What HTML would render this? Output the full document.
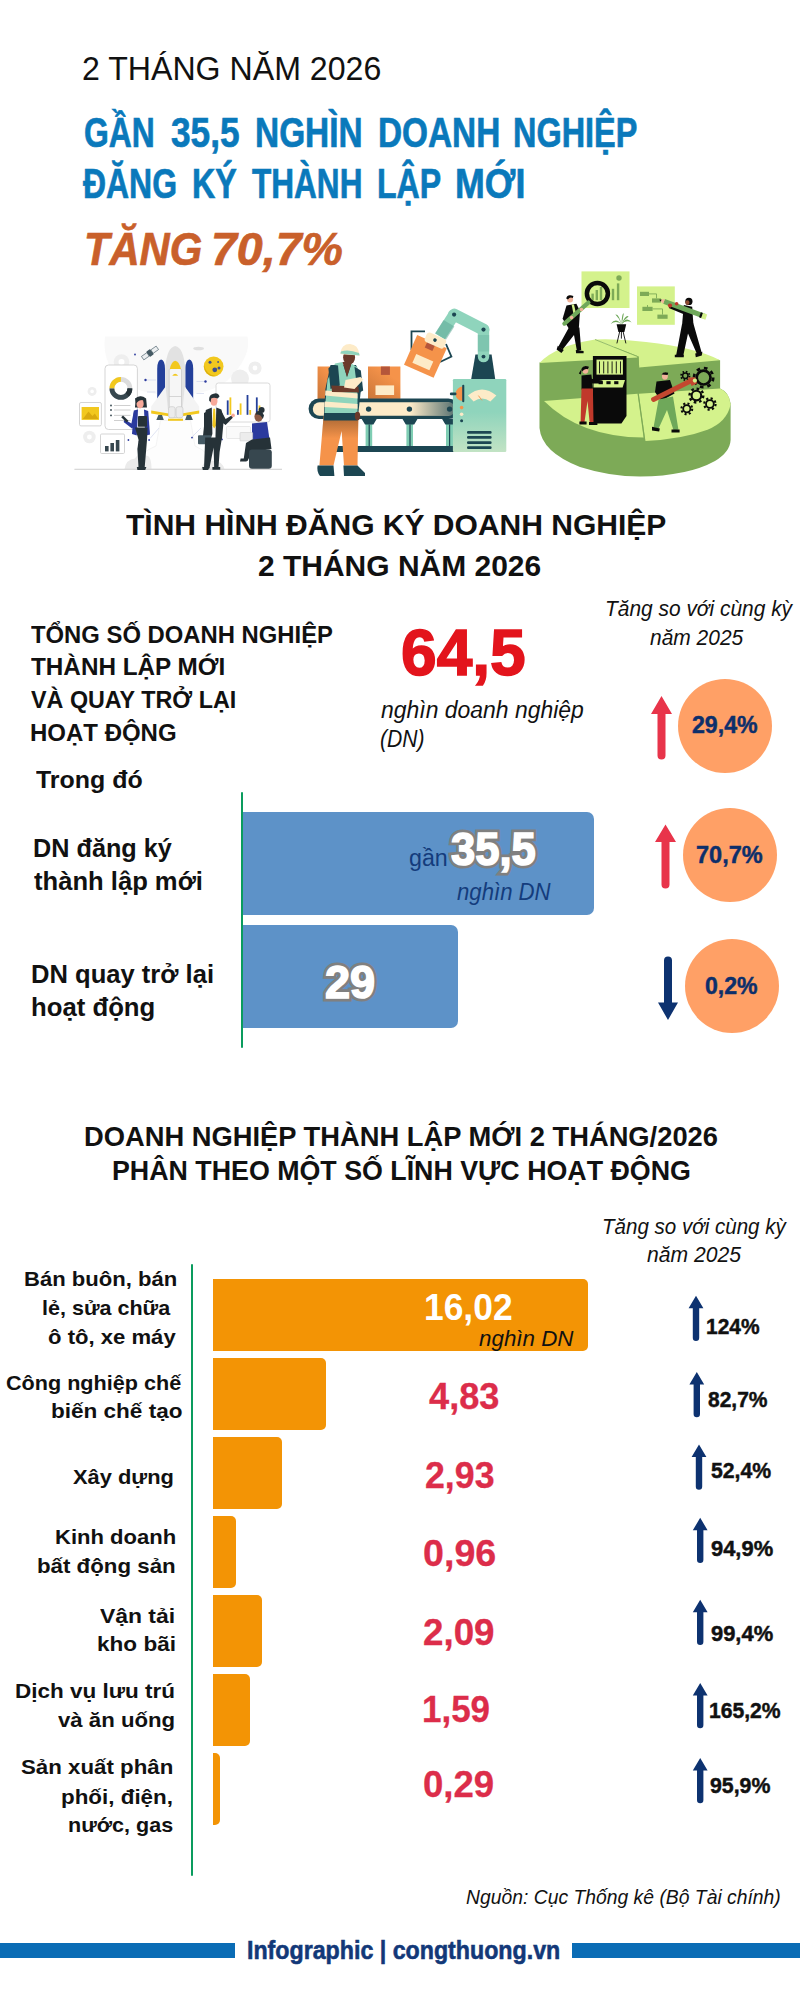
<!DOCTYPE html>
<html lang="vi"><head><meta charset="utf-8"><title>Infographic</title>
<style>
html,body{margin:0;padding:0;background:#fff;}
body{font-family:"Liberation Sans",sans-serif;}
#page{position:relative;width:800px;height:2000px;overflow:hidden;background:#fff;}
.t{position:absolute;white-space:nowrap;transform-origin:0 0;display:block;}
.bl{display:inline-block;width:0;height:0;vertical-align:baseline;}
.r{position:absolute;}
svg{position:absolute;left:0;top:0;overflow:visible;}

</style></head>
<body>
<div id="page">
<!-- section 2 bars -->
<div class="r" style="left:240.6px;top:792.3px;width:2.2px;height:255.5px;background:#0a9c5e;border-radius:1px"></div>
<div class="r" style="left:243px;top:812px;width:351px;height:103px;background:#5d92c8;border-radius:0 7px 7px 0"></div>
<div class="r" style="left:243px;top:925px;width:215px;height:103px;background:#5d92c8;border-radius:0 7px 7px 0"></div>
<!-- circles -->
<div class="r" style="left:678px;top:678.5px;width:94px;height:94px;border-radius:50%;background:#ffa066"></div>
<div class="r" style="left:682.5px;top:808px;width:94px;height:94px;border-radius:50%;background:#ffa066"></div>
<div class="r" style="left:684.5px;top:939px;width:94px;height:94px;border-radius:50%;background:#ffa066"></div>
<!-- section 3 bars -->
<div class="r" style="left:190.9px;top:1264px;width:2.1px;height:612px;background:#0a9c5e;border-radius:1px"></div>
<div class="r" style="left:213px;top:1279px;width:375px;height:72px;background:#f39405;border-radius:0 5px 5px 0"></div>
<div class="r" style="left:213px;top:1358px;width:113px;height:72px;background:#f39405;border-radius:0 5px 5px 0"></div>
<div class="r" style="left:213px;top:1437px;width:69px;height:72px;background:#f39405;border-radius:0 5px 5px 0"></div>
<div class="r" style="left:213px;top:1516px;width:23px;height:72px;background:#f39405;border-radius:0 5px 5px 0"></div>
<div class="r" style="left:213px;top:1595px;width:49px;height:72px;background:#f39405;border-radius:0 5px 5px 0"></div>
<div class="r" style="left:213px;top:1674px;width:37px;height:72px;background:#f39405;border-radius:0 5px 5px 0"></div>
<div class="r" style="left:213px;top:1753px;width:7px;height:72px;background:#f39405;border-radius:0 5px 5px 0"></div>
<!-- footer bars -->
<div class="r" style="left:0;top:1943px;width:235px;height:15px;background:#0a6cb5"></div>
<div class="r" style="left:572px;top:1943px;width:228px;height:15px;background:#0a6cb5"></div>
<!-- illustrations -->
<svg width="800" height="2000" viewBox="0 0 800 2000">
<!-- illustration 1: rocket & business people. coords in 3.333x zoom space of region (60,320) -->
<g transform="translate(60,320) scale(0.3)">
<!-- soft background blob -->
<path d="M150 55 L625 55 Q640 120 560 200 Q500 250 385 250 Q250 250 190 190 Q140 130 150 55 Z" fill="#f9f9f9"/>
<!-- gears light -->
<g fill="#eeeeee">
<circle cx="205" cy="140" r="26"/><circle cx="650" cy="160" r="22"/><circle cx="600" cy="195" r="30"/>
<circle cx="107" cy="238" r="15"/><circle cx="98" cy="390" r="21"/>
</g>
<g fill="#fff"><circle cx="205" cy="140" r="10"/><circle cx="650" cy="160" r="8"/><circle cx="107" cy="238" r="6"/><circle cx="98" cy="390" r="8"/></g>
<!-- smoke -->
<path d="M335 335 L435 335 L450 420 Q500 440 520 497 L245 497 Q265 440 320 420 Z" fill="#fdfdfd" stroke="#ececec" stroke-width="2"/>
<path d="M215 497 Q220 465 250 462 Q262 440 285 452 Q305 450 305 497 Z" fill="#ebebeb"/>
<path d="M470 497 Q480 462 510 470 Q540 468 548 497 Z" fill="#ebebeb"/>
<!-- phone -->
<rect x="150" y="150" width="108" height="215" rx="12" fill="#fff" stroke="#d0d0d0" stroke-width="3"/>
<circle cx="203" cy="228" r="30" fill="none" stroke="#dcdcdc" stroke-width="16"/>
<path d="M173 228 A30 30 0 0 1 203 198" fill="none" stroke="#f2c81e" stroke-width="16"/>
<path d="M173 228 A30 30 0 0 0 233 228" fill="none" stroke="#37474f" stroke-width="16"/>
<path d="M224 249 A30 30 0 0 0 233 228" fill="none" stroke="#263238" stroke-width="16"/>
<g stroke="#c9c9c9" stroke-width="3"><path d="M180 285 H235 M180 300 H235 M180 318 H235 M180 335 H235"/></g>
<g fill="#37474f"><circle cx="170" cy="300" r="3"/><circle cx="170" cy="318" r="3"/><circle cx="170" cy="285" r="3"/></g>
<!-- image card -->
<rect x="65" y="275" width="73" height="78" rx="5" fill="#fff" stroke="#d0d0d0" stroke-width="3"/>
<rect x="72" y="290" width="58" height="43" fill="#f2c81e"/>
<path d="M76 330 L95 305 L108 320 L116 312 L128 330 Z" fill="#d9a90f"/>
<!-- chart card -->
<rect x="135" y="380" width="80" height="65" rx="4" fill="#fff" stroke="#d0d0d0" stroke-width="3"/>
<g fill="#37474f"><rect x="150" y="420" width="12" height="18"/><rect x="168" y="410" width="12" height="28"/><rect x="186" y="400" width="12" height="38"/></g>
<!-- satellite -->
<g transform="rotate(-35 300 110)"><rect x="270" y="103" width="22" height="14" fill="#eceff1" stroke="#455a64" stroke-width="2"/><rect x="308" y="103" width="22" height="14" fill="#eceff1" stroke="#455a64" stroke-width="2"/><rect x="292" y="99" width="16" height="22" rx="3" fill="#455a64"/></g>
<ellipse cx="462" cy="95" rx="18" ry="6" fill="#e0e0e0"/>
<!-- circuit lines -->
<g stroke="#c9d0ea" stroke-width="2" fill="none"><path d="M285 200 H320 M455 205 H485 M290 240 H318 M455 245 H480 M300 395 L330 360 M440 390 L470 360"/></g>
<g fill="#2b3a9e"><circle cx="285" cy="200" r="4"/><circle cx="485" cy="205" r="4"/><circle cx="250" cy="115" r="3"/><circle cx="297" cy="400" r="3"/><circle cx="440" cy="392" r="3"/><circle cx="540" cy="398" r="3"/><circle cx="228" cy="400" r="3"/></g>
<!-- rocket boosters -->
<path d="M324 265 V162 Q325 133 337 132 Q349 133 350 162 V265 Z" fill="#24409a"/>
<path d="M418 265 V162 Q419 133 431 132 Q443 133 444 162 V265 Z" fill="#24409a"/>
<!-- external tank -->
<path d="M351 300 V160 Q356 92 384 87 Q412 92 417 160 V300 Z" fill="#e2e2e2"/>
<!-- wings -->
<path d="M352 222 L304 288 V312 L362 320 Z M416 222 L464 288 V312 L406 320 Z" fill="#f4f4f4"/>
<path d="M304 302 L362 312 V321 L304 312 Z M464 302 L406 312 V321 L464 312 Z" fill="#f2c81e"/>
<!-- orbiter -->
<path d="M364 325 V165 Q384 150 405 165 V325 Z" fill="#f6f6f6" stroke="#c9c9c9" stroke-width="2.5"/>
<path d="M366 163 Q372 138 384 136 Q397 138 403 163 Z" fill="#f2c81e"/>
<path d="M374 186 Q384 172 394 186 Z" fill="#f2c81e"/>
<path d="M364 255 H405" stroke="#c9c9c9" stroke-width="2.5"/>
<rect x="362" y="289" width="22" height="37" rx="7" fill="#ececec" stroke="#c6c6c6" stroke-width="2"/>
<rect x="387" y="289" width="23" height="37" rx="7" fill="#ececec" stroke="#c6c6c6" stroke-width="2"/>
<path d="M321 333 L328 317 H340 L346 333 Z M417 333 L423 317 H436 L443 333 Z" fill="#455a64"/>
<rect x="360" y="329" width="50" height="7" fill="#f2c81e"/>
<!-- moon -->
<circle cx="512" cy="155" r="33" fill="#f2c81e"/>
<g fill="#3f4f8f"><circle cx="500" cy="141" r="5"/><circle cx="516" cy="166" r="8"/><circle cx="530" cy="160" r="5"/><circle cx="527" cy="140" r="3"/></g><path d="M481 150 A33 33 0 0 0 520 187 A40 40 0 0 1 481 150 Z" fill="#d9ae10"/>
<!-- chart board -->
<rect x="520" y="210" width="180" height="130" rx="8" fill="#fff" stroke="#d6d6d6" stroke-width="3"/>
<g fill="#24409a"><rect x="556" y="268" width="6" height="48"/><rect x="590" y="300" width="6" height="16"/><rect x="622" y="250" width="6" height="66"/><rect x="653" y="258" width="6" height="58"/></g>
<g fill="#f2c81e"><rect x="565" y="258" width="6" height="58"/><rect x="599" y="278" width="6" height="38"/><rect x="631" y="300" width="6" height="16"/><rect x="662" y="285" width="6" height="31"/></g>
<rect x="555" y="355" width="80" height="40" rx="3" fill="#fafafa" stroke="#dcdcdc" stroke-width="2"/>
<!-- ground -->
<rect x="48" y="496" width="692" height="3" fill="#c9c9c9"/>
<!-- woman left -->
<g>
<path d="M252 262 Q268 246 287 262 L290 292 L250 292 Z" fill="#263238"/>
<ellipse cx="267" cy="279" rx="12" ry="16" fill="#f7a99a"/>
<path d="M250 262 Q262 252 280 258 L284 268 Q266 262 254 278 Z" fill="#263238"/>
<path d="M258 298 L280 298 L282 360 L256 360 Z" fill="#fafafa"/>
<path d="M246 302 L260 298 L256 385 L240 380 Z" fill="#2b3a9e"/>
<path d="M280 298 L294 303 L300 382 L284 386 Z" fill="#2b3a9e"/>
<path d="M246 305 L238 345 L216 332 L212 340 L240 362 L252 350 Z" fill="#2b3a9e"/>
<path d="M210 318 L228 336 L222 342 L204 324 Z" fill="#263238"/>
<rect x="260" y="320" width="30" height="36" rx="3" fill="#263238"/>
<path d="M250 358 L292 358 L290 400 L282 495 L272 497 L268 440 L262 400 Z" fill="#263238"/>
<path d="M262 400 L280 460 L276 497 L262 497 L258 430 Z" fill="#263238"/>
<path d="M256 490 H288 L284 500 H258 Z" fill="#263238"/>
</g>
<!-- man -->
<g>
<ellipse cx="513" cy="270" rx="12" ry="16" fill="#f7a99a"/>
<path d="M497 268 Q496 248 512 246 Q526 240 532 254 L526 262 Q512 256 504 262 L502 274 Z" fill="#263238"/>
<path d="M505 292 L522 292 L520 368 L506 368 Z" fill="#fafafa"/>
<path d="M511 296 L517 296 L520 352 L514 362 L508 352 Z" fill="#f2c81e"/>
<path d="M486 300 L506 292 L508 380 L500 400 L476 392 Z" fill="#263238"/>
<path d="M521 292 L538 298 L546 330 L540 396 L518 400 Z" fill="#263238"/>
<path d="M536 300 L552 330 L572 318 L576 326 L552 350 L538 340 Z" fill="#263238"/>
<circle cx="577" cy="318" r="6" fill="#f7a99a"/>
<path d="M480 310 L490 305 L492 385 L480 388 Z" fill="#263238"/>
<rect x="460" y="384" width="44" height="30" rx="3" fill="#455a64"/>
<path d="M484 392 L540 392 L532 440 L528 495 L514 495 L512 425 L498 495 L480 495 Z" fill="#263238"/>
<path d="M474 490 H498 L494 500 H476 Z M508 490 H534 V499 H508 Z" fill="#263238"/>
</g>
<!-- woman sitting -->
<g>
<circle cx="672" cy="300" r="10" fill="#263238"/>
<ellipse cx="662" cy="322" rx="14" ry="17" fill="#8d5a44"/>
<path d="M655 305 Q672 298 680 318 L676 330 Q668 312 652 316 Z" fill="#263238"/>
<path d="M640 345 L690 340 L698 395 L640 400 Z" fill="#2b3a9e"/>
<rect x="600" y="375" width="42" height="28" rx="2" fill="#ececec" stroke="#d0d0d0" stroke-width="2"/>
<path d="M640 398 L700 392 L705 430 L640 440 L625 470 L612 466 L620 410 Z" fill="#263238"/>
<rect x="630" y="432" width="76" height="64" rx="10" fill="#37474f"/>
<path d="M602 462 L625 462 L622 472 L600 472 Z" fill="#263238"/>
</g>
</g>

<!-- illustration 2: worker, conveyor, robot arm. coords in 3.333x zoom space of region (290,290) -->
<g transform="translate(290,290) scale(0.3)">
<defs><linearGradient id="pg" x1="0" y1="0" x2="0" y2="1"><stop offset="0" stop-color="#5a3a1e" stop-opacity="0.5"/><stop offset="0.45" stop-color="#5a3a1e" stop-opacity="0"/></linearGradient><linearGradient id="bx" x1="0" y1="1" x2="0.6" y2="0.2"><stop offset="0" stop-color="#8a4a20" stop-opacity="0.4"/><stop offset="1" stop-color="#8a4a20" stop-opacity="0"/></linearGradient><linearGradient id="mg" x1="0" y1="0" x2="0" y2="1"><stop offset="0.45" stop-color="#8fd4bc"/><stop offset="1" stop-color="#c2e3c4"/></linearGradient>
<linearGradient id="bg2" x1="0" y1="0" x2="1" y2="0"><stop offset="0" stop-color="#1c4652" stop-opacity="0"/><stop offset="1" stop-color="#1c4652" stop-opacity="0.75"/></linearGradient></defs>
<!-- box behind worker -->
<rect x="92" y="255" width="70" height="108" fill="#f5934a"/><rect x="92" y="255" width="70" height="108" fill="url(#bx)"/>
<!-- box 2 -->
<rect x="260" y="255" width="108" height="108" fill="#f5934a"/>
<rect x="260" y="255" width="108" height="108" fill="url(#bx)"/>
<rect x="303" y="255" width="30" height="28" fill="#b5563a"/>
<rect x="285" y="318" width="62" height="32" fill="#fdebc8"/>
<!-- conveyor legs -->
<g fill="#7fcdb3"><rect x="252" y="430" width="22" height="95"/><rect x="388" y="430" width="22" height="95"/><rect x="520" y="430" width="24" height="95"/></g>
<g fill="#1c4652"><path d="M238 428 H290 L278 448 H250 Z M374 428 H426 L414 448 H386 Z M506 428 H556 L546 448 H518 Z"/><rect x="262" y="448" width="4" height="75"/><rect x="398" y="448" width="4" height="75"/><rect x="530" y="448" width="4" height="75"/></g>
<rect x="150" y="520" width="400" height="20" fill="#1c4652"/>
<!-- conveyor belt -->
<rect x="62" y="362" width="500" height="68" rx="34" fill="#1c4652"/>
<rect x="76" y="374" width="475" height="45" rx="22" fill="#fdebc8"/>
<path d="M400 374 H551 V419 H400 Z" fill="url(#bg2)"/>
<g fill="#1c4652"><circle cx="262" cy="397" r="9"/><circle cx="398" cy="397" r="9"/><circle cx="532" cy="397" r="9"/></g>
<!-- machine -->

<rect x="543" y="297" width="178" height="243" rx="4" fill="url(#mg)"/>
<path d="M593 352 Q640 312 688 352 L668 372 Q640 352 612 372 Z" fill="#fdebc8"/>
<path d="M640 368 L628 352" stroke="#f5934a" stroke-width="3"/>
<path d="M576 322 A24 24 0 0 0 576 370 Z" fill="#f5934a"/>
<rect x="574" y="316" width="7" height="58" rx="3" fill="#1c4652"/>
<rect x="533" y="342" width="22" height="9" rx="4" fill="#1c4652"/>
<g><circle cx="572" cy="392" r="6" fill="#f5934a"/><circle cx="572" cy="414" r="6" fill="#fdebc8"/><circle cx="572" cy="436" r="5" fill="#1c4652"/></g>
<g fill="#1c4652"><rect x="590" y="470" width="82" height="9" rx="4"/><rect x="590" y="487" width="82" height="9" rx="4"/><rect x="590" y="504" width="82" height="9" rx="4"/><rect x="590" y="521" width="82" height="9" rx="4"/></g>
<!-- robot base -->
<path d="M618 215 L672 215 L684 297 L604 297 Z" fill="#1c4652"/>
<!-- robot arm -->
<g stroke="#8fd4bc" stroke-linecap="round" fill="none">
<path d="M645 132 V222" stroke-width="38"/>
<path d="M547 82 L645 132" stroke-width="40"/>
<path d="M547 82 L500 155" stroke-width="38" stroke-linecap="butt"/>
</g>
<path d="M512 100 L548 122 L520 166 L484 144 Z" fill="#5fa898" opacity="0.55"/>
<path d="M626 150 H664 V205 H626 Z" fill="#5fa898" opacity="0.35"/>
<circle cx="547" cy="82" r="7" fill="#1c4652"/>
<circle cx="645" cy="132" r="7" fill="#1c4652"/>
<circle cx="645" cy="222" r="6.5" fill="#1c4652"/>
<!-- gripper -->
<path d="M405 200 V138 H450" fill="none" stroke="#1c4652" stroke-width="6"/>
<path d="M520 180 L538 222 L500 240" fill="none" stroke="#1c4652" stroke-width="6"/>
<!-- held box -->
<g transform="rotate(24 450 222)">
<rect x="397" y="167" width="108" height="108" fill="#f5934a"/>
<rect x="437" y="167" width="28" height="28" fill="#b5563a"/>
<rect x="420" y="226" width="62" height="32" fill="#fdebc8"/>
<rect x="425" y="142" width="70" height="34" rx="10" fill="#fdebc8"/>
<circle cx="458" cy="158" r="6" fill="#1c4652"/>
</g>
<!-- worker -->
<g>
<!-- legs -->
<path d="M112 420 L228 420 L225 585 L180 585 L172 470 L145 585 L98 585 Z" fill="#f5934a"/>
<path d="M112 420 L228 420 L225 585 L180 585 L172 470 L145 585 L98 585 Z" fill="url(#pg)"/>
<path d="M92 585 H145 L148 620 H100 Q88 605 92 585 Z M178 585 H225 L250 610 V620 H180 Z" fill="#1c4652"/>
<!-- torso dark shirt -->
<path d="M135 250 L220 250 L240 300 L235 345 L225 435 L112 435 L118 330 Z" fill="#1c4652"/>
<!-- vest -->
<path d="M150 245 L175 240 L190 290 L205 245 L225 258 L225 410 L115 410 L125 300 Z" fill="#8fd4bc"/>
<path d="M118 335 L225 345 L225 362 L117 352 Z M116 372 L225 380 L225 396 L115 390 Z" fill="#fdebc8"/>
<path d="M175 240 L190 290 L205 245 L195 238 Z" fill="#6b3a2a"/>
<!-- arm + clipboard -->
<path d="M128 262 Q140 245 160 252 L166 318 L135 330 Z" fill="#1c4652"/>
<path d="M215 256 L236 268 L244 335 L226 345 Z" fill="#1c4652"/>
<path d="M138 318 L228 322 L230 342 L140 340 Z" fill="#6b3a2a"/>
<path d="M185 300 L235 290 L245 298 L215 330 L180 325 Z" fill="#fdebc8"/>
<ellipse cx="225" cy="420" rx="9" ry="14" fill="#6b3a2a"/>
<!-- head -->
<ellipse cx="197" cy="225" rx="20" ry="23" fill="#6b3a2a"/>
<path d="M168 212 Q170 180 200 180 Q228 183 230 212 L232 218 L170 214 Z" fill="#fdebc8"/>
<path d="M170 205 Q195 196 230 210 L232 218 L168 212 Z" fill="#8fd4bc"/>
</g>
</g>

<!-- illustration 3: green 3D pie with people. coords in 3.333x zoom space of region (520,260) -->
<g transform="translate(520,260) scale(0.3)">
<!-- pie silhouette (dark sides) -->
<path d="M65 342 L65 560 Q72 640 200 690 Q300 722 400 722 Q560 720 650 670 Q700 640 702 600 L702 478 Q696 440 667 428 L667 334 Q560 300 420 290 L250 290 Z" fill="#7daa57"/>
<!-- back tier top surfaces -->
<path d="M65 343 Q120 285 250 265 L392 322 L392 325 Z" fill="#d4f28c"/>
<path d="M250 265 Q330 262 420 273 Q590 292 667 334 L397 358 L396 322 Z" fill="#d4f28c"/>
<path d="M250 265 L392 322 L396 358" stroke="#7daa57" stroke-width="2.5" fill="none"/>
<!-- bottom-left tier top surface -->
<path d="M80 470 L392 446 L412 592 Q200 590 80 470 Z" fill="#d4f28c"/>
<!-- right tier top surface -->
<path d="M396 446 L667 428 Q698 442 702 482 Q690 540 625 566 Q540 598 418 603 Z" fill="#d4f28c"/>
<path d="M394 446 L416 603" stroke="#7daa57" stroke-width="2.5"/>
<!-- cards -->
<rect x="205" y="38" width="160" height="122" fill="#d4f28c"/>
<rect x="390" y="88" width="126" height="128" fill="#d4f28c"/>
<g fill="#7daa57"><rect x="238" y="112" width="8" height="22"/><rect x="252" y="100" width="8" height="34"/><rect x="266" y="90" width="8" height="44"/><rect x="306" y="96" width="8" height="38"/><rect x="323" y="78" width="8" height="56"/><circle cx="330" cy="60" r="9"/>
<rect x="400" y="106" width="30" height="14"/><rect x="440" y="128" width="30" height="14"/><rect x="408" y="156" width="34" height="14"/><rect x="458" y="182" width="34" height="14"/></g>
<path d="M430 113 H455 V128 M425 150 V163 M442 163 H475 V182" stroke="#7daa57" stroke-width="3" fill="none"/>
<!-- magnifier -->
<circle cx="258" cy="112" r="35" fill="none" stroke="#0a0a0a" stroke-width="15"/>
<!-- person 1 -->
<g fill="#0a0a0a">
<path d="M155 152 L188 146 L200 170 L196 228 L165 232 L142 196 Z"/>
<path d="M163 225 L198 225 L204 300 L190 304 L180 250 L142 298 L128 288 Z"/>
<path d="M126 286 L146 300 L138 310 L122 298 Z M186 300 L212 303 L212 311 L187 311 Z"/>
</g>
<ellipse cx="167" cy="130" rx="10" ry="12" fill="#f2b39a"/><path d="M154 128 Q158 112 178 120 L176 127 Q166 122 160 132 Z" fill="#0a0a0a"/>
<path d="M172 148 L180 148 L186 175 L178 178 Z" fill="#d4f28c"/>
<path d="M148 212 L228 142" stroke="#6fa85a" stroke-width="14" stroke-linecap="round"/>
<circle cx="172" cy="192" r="6" fill="#f2b39a"/><circle cx="205" cy="165" r="6" fill="#f2b39a"/>
<!-- plant -->
<g fill="#6fa85a"><path d="M338 215 Q320 190 302 213 Q322 200 338 215 Z"/><path d="M338 215 Q330 180 318 182 Q332 195 338 215 Z"/><path d="M338 215 Q340 175 346 178 Q344 195 338 215 Z"/><path d="M338 215 Q355 185 372 208 Q352 198 338 215 Z"/><path d="M338 215 Q352 182 362 188 Q345 200 338 215 Z"/></g>
<path d="M322 214 H354 L348 240 H328 Z" fill="#0a0a0a"/><path d="M332 240 L323 278 M344 240 L353 278 M338 240 V262" stroke="#0a0a0a" stroke-width="3"/>
<!-- person 2 -->
<g fill="#0a0a0a">
<path d="M546 150 L574 156 L578 214 L540 218 Z"/>
<path d="M552 160 L500 148 L496 160 L548 182 Z"/>
<path d="M540 214 L578 212 L606 310 L592 318 L560 245 L544 320 L520 320 Z"/>
<path d="M516 316 H546 V324 H516 Z M584 312 L608 306 L606 318 L586 324 Z"/>
<circle cx="563" cy="138" r="12"/>
</g>
<ellipse cx="558" cy="142" rx="7" ry="8" fill="#8d4a32"/>
<path d="M480 138 L616 188" stroke="#6fa85a" stroke-width="17" stroke-linecap="butt"/>
<path d="M603 174 L597 191 L604 194 L610 177 Z" fill="#0a0a0a"/>
<path d="M610 177 L604 194 L618 199 L624 182 Z" fill="#d4f28c"/>
<path d="M466 133 L483 130 L477 147 Z" fill="#f2b39a"/>
<path d="M464 132.500 L472 132 L469 138 Z" fill="#0a0a0a"/>
<circle cx="500" cy="152" r="7" fill="#c0392b"/><circle cx="522" cy="146" r="6" fill="#c0392b"/>
<!-- machine -->
<path d="M243 320 H355 V520 L338 545 H243 Z" fill="#0a0a0a"/>
<rect x="255" y="332" width="88" height="50" fill="#d4f28c"/>
<g stroke="#0a0a0a" stroke-width="3"><path d="M265 338 V378 M279 338 V378 M293 338 V378 M307 338 V378 M321 338 V378 M335 338 V378"/></g>
<path d="M245 400 H350 L342 425 H245 Z" fill="#d4f28c"/>
<g fill="#0a0a0a"><rect x="262" y="404" width="14" height="10"/><rect x="288" y="404" width="14" height="10"/><rect x="314" y="404" width="14" height="10"/></g>
<!-- woman -->
<path d="M205 385 L238 382 L243 430 L205 432 Z" fill="#0a0a0a"/>
<path d="M232 395 L275 402 L275 412 L232 412 Z" fill="#0a0a0a"/>
<ellipse cx="218" cy="367" rx="10" ry="12" fill="#f2b39a"/>
<path d="M205 362 Q212 348 230 356 L226 364 Q214 360 208 372 Z M206 362 L196 378 L203 382 Z" fill="#0a0a0a"/>
<path d="M205 428 L243 428 L245 540 L232 540 L225 470 L215 540 L202 540 Z" fill="#c0392b"/>
<path d="M198 538 H222 V548 H198 Z M230 540 H258 V550 H230 Z" fill="#0a0a0a"/>
<!-- gears -->
<g fill="none" stroke="#0a0a0a">
<circle cx="612" cy="392" r="23" stroke-width="9"/><circle cx="612" cy="392" r="32" stroke-width="9" stroke-dasharray="12.06 13.07"/>
<circle cx="588" cy="452" r="16" stroke-width="7"/><circle cx="588" cy="452" r="23" stroke-width="8" stroke-dasharray="8.67 9.39"/>
<circle cx="556" cy="496" r="12" stroke-width="6"/><circle cx="556" cy="496" r="18" stroke-width="7" stroke-dasharray="6.79 7.35"/>
<circle cx="633" cy="480" r="13" stroke-width="6"/><circle cx="633" cy="480" r="19" stroke-width="7" stroke-dasharray="7.16 7.76"/>
<circle cx="551" cy="386" r="9" stroke-width="5"/><circle cx="551" cy="386" r="14" stroke-width="6" stroke-dasharray="5.28 5.72"/>
</g>
<!-- man with wrench -->
<path d="M455 405 L500 400 L515 445 L470 470 L450 440 Z" fill="#0a0a0a"/>
<ellipse cx="483" cy="387" rx="10" ry="12" fill="#f2b39a"/><path d="M472 382 Q478 370 494 376 L492 383 Z" fill="#0a0a0a"/>
<path d="M462 465 L510 455 L528 565 L512 568 L490 500 L462 562 L445 558 Z" fill="#6fa85a"/>
<path d="M440 556 L466 562 L464 572 L440 568 Z M505 565 L532 565 L532 575 L505 575 Z" fill="#0a0a0a"/>
<path d="M445 465 L575 400" stroke="#c4472f" stroke-width="16" stroke-linecap="round"/>
<path d="M560 392 L585 392 L590 412 L572 420 Z" fill="#c4472f"/>
<circle cx="583" cy="402" r="7" fill="#d4f28c"/>
</g>

</svg>
<!-- arrows -->
<svg width="800" height="2000" viewBox="0 0 800 2000">
<g fill="#e8344a">
<path d="M661.5 696 L672 714 L665.5 714 L665.5 755.5 A4 4 0 0 1 657.5 755.5 L657.5 714 L651 714 Z"/>
<path d="M665.5 824.5 L676 842 L669.5 842 L669.5 884.5 A4 4 0 0 1 661.5 884.5 L661.5 842 L655 842 Z"/>
</g>
<path fill="#0d3270" d="M668 1020 L678 1002.5 L672 1002.5 L672 960.5 A4 4 0 0 0 664 960.5 L664 1002.5 L658 1002.5 Z"/>
<g fill="#0d3270" id="ups">
<path id="ua" d="M0 0 L7.4 12.5 L3.2 12.5 L3.2 42 A3.2 3.2 0 0 1 -3.2 42 L-3.2 12.5 L-7.4 12.5 Z" transform="translate(696,1295.8)"/>
<path d="M0 0 L7.4 12.5 L3.2 12.5 L3.2 42 A3.2 3.2 0 0 1 -3.2 42 L-3.2 12.5 L-7.4 12.5 Z" transform="translate(696.8,1372)"/>
<path d="M0 0 L7.4 12.5 L3.2 12.5 L3.2 42 A3.2 3.2 0 0 1 -3.2 42 L-3.2 12.5 L-7.4 12.5 Z" transform="translate(699,1444.6)"/>
<path d="M0 0 L7.4 12.5 L3.2 12.5 L3.2 42 A3.2 3.2 0 0 1 -3.2 42 L-3.2 12.5 L-7.4 12.5 Z" transform="translate(700.2,1517.8)"/>
<path d="M0 0 L7.4 12.5 L3.2 12.5 L3.2 42 A3.2 3.2 0 0 1 -3.2 42 L-3.2 12.5 L-7.4 12.5 Z" transform="translate(700.2,1599.7)"/>
<path d="M0 0 L7.4 12.5 L3.2 12.5 L3.2 42 A3.2 3.2 0 0 1 -3.2 42 L-3.2 12.5 L-7.4 12.5 Z" transform="translate(700.2,1683)"/>
<path d="M0 0 L7.4 12.5 L3.2 12.5 L3.2 42 A3.2 3.2 0 0 1 -3.2 42 L-3.2 12.5 L-7.4 12.5 Z" transform="translate(700.2,1758)"/>
</g>
</svg>

<span class="t" style="font-size:34.06px;line-height:34.06px;font-weight:400;color:#111111;left:82.06px;top:50.50px;transform:scaleX(0.9432);">2 THÁNG NĂM 2026</span>
<span class="t" style="font-size:42.03px;line-height:42.03px;font-weight:700;color:#0a79bb;-webkit-text-stroke:0.7px #0a79bb;left:84.24px;top:112.30px;transform:scaleX(0.7576);">GẦN</span>
<span class="t" style="font-size:42.03px;line-height:42.03px;font-weight:700;color:#0a79bb;-webkit-text-stroke:0.7px #0a79bb;left:170.50px;top:112.30px;transform:scaleX(0.8378);">35,5</span>
<span class="t" style="font-size:42.03px;line-height:42.03px;font-weight:700;color:#0a79bb;-webkit-text-stroke:0.7px #0a79bb;left:254.81px;top:112.30px;transform:scaleX(0.7952);">NGHÌN</span>
<span class="t" style="font-size:42.03px;line-height:42.03px;font-weight:700;color:#0a79bb;-webkit-text-stroke:0.7px #0a79bb;left:377.66px;top:112.30px;transform:scaleX(0.7939);">DOANH</span>
<span class="t" style="font-size:42.03px;line-height:42.03px;font-weight:700;color:#0a79bb;-webkit-text-stroke:0.7px #0a79bb;left:513.46px;top:112.30px;transform:scaleX(0.7718);">NGHIỆP</span>
<span class="t" style="font-size:42.03px;line-height:42.03px;font-weight:700;color:#0a79bb;-webkit-text-stroke:0.7px #0a79bb;left:83.00px;top:163.00px;transform:scaleX(0.7597);">ĐĂNG</span>
<span class="t" style="font-size:42.03px;line-height:42.03px;font-weight:700;color:#0a79bb;-webkit-text-stroke:0.7px #0a79bb;left:192.17px;top:163.00px;transform:scaleX(0.7667);">KÝ</span>
<span class="t" style="font-size:42.03px;line-height:42.03px;font-weight:700;color:#0a79bb;-webkit-text-stroke:0.7px #0a79bb;left:251.90px;top:163.00px;transform:scaleX(0.7513);">THÀNH</span>
<span class="t" style="font-size:42.03px;line-height:42.03px;font-weight:700;color:#0a79bb;-webkit-text-stroke:0.7px #0a79bb;left:376.57px;top:163.00px;transform:scaleX(0.7641);">LẬP</span>
<span class="t" style="font-size:42.03px;line-height:42.03px;font-weight:700;color:#0a79bb;-webkit-text-stroke:0.7px #0a79bb;left:455.20px;top:163.00px;transform:scaleX(0.8524);">MỚI</span>
<span class="t" style="font-size:45.65px;line-height:45.65px;font-weight:700;color:#c9602b;font-style:italic;-webkit-text-stroke:0.7px #c9602b;left:84.26px;top:227.00px;transform:scaleX(0.9142);">TĂNG</span>
<span class="t" style="font-size:45.65px;line-height:45.65px;font-weight:700;color:#c9602b;font-style:italic;-webkit-text-stroke:0.7px #c9602b;left:211.34px;top:227.00px;transform:scaleX(1.0188);">70,7%</span>
<span class="t" style="font-size:28.99px;line-height:28.99px;font-weight:700;color:#111111;left:126.00px;top:511.00px;transform:scaleX(1.0357);">TÌNH HÌNH ĐĂNG KÝ DOANH NGHIỆP</span>
<span class="t" style="font-size:28.99px;line-height:28.99px;font-weight:700;color:#111111;left:257.97px;top:552.00px;transform:scaleX(1.0341);">2 THÁNG NĂM 2026</span>
<span class="t" style="font-size:23.91px;line-height:23.91px;font-weight:700;color:#111111;left:31.00px;top:622.50px;transform:scaleX(0.9971);">TỔNG SỐ DOANH NGHIỆP</span>
<span class="t" style="font-size:23.91px;line-height:23.91px;font-weight:700;color:#111111;left:31.00px;top:655.00px;transform:scaleX(1.0154);">THÀNH LẬP MỚI</span>
<span class="t" style="font-size:23.91px;line-height:23.91px;font-weight:700;color:#111111;left:31.00px;top:688.00px;transform:scaleX(0.9756);">VÀ QUAY TRỞ LẠI</span>
<span class="t" style="font-size:23.91px;line-height:23.91px;font-weight:700;color:#111111;left:30.00px;top:721.00px;transform:scaleX(1.0035);">HOẠT ĐỘNG</span>
<span class="t" style="font-size:23.91px;line-height:23.91px;font-weight:700;color:#111111;left:36.00px;top:767.50px;transform:scaleX(1.0429);">Trong đó</span>
<span class="t" style="font-size:65.22px;line-height:65.22px;font-weight:700;color:#e3141c;-webkit-text-stroke:1.6px #e3141c;left:400.53px;top:620.00px;transform:scaleX(0.9825);">64,5</span>
<span class="t" style="font-size:23px;line-height:23px;font-weight:400;color:#111111;font-style:italic;left:381.00px;top:698.50px;transform:scaleX(0.9972);">nghìn doanh nghiệp</span>
<span class="t" style="font-size:23px;line-height:23px;font-weight:400;color:#111111;font-style:italic;left:380.08px;top:728.00px;transform:scaleX(0.9173);">(DN)</span>
<span class="t" style="font-size:22px;line-height:22px;font-weight:400;color:#111111;font-style:italic;left:605.05px;top:598.00px;transform:scaleX(0.9508);">Tăng so với cùng kỳ</span>
<span class="t" style="font-size:22px;line-height:22px;font-weight:400;color:#111111;font-style:italic;left:650.00px;top:627.00px;transform:scaleX(0.9532);">năm 2025</span>
<span class="t" style="font-size:23.19px;line-height:23.19px;font-weight:700;color:#0d2f6b;-webkit-text-stroke:0.45px #0d2f6b;left:691.50px;top:714.00px;transform:scaleX(0.9980);">29,4%</span>
<span class="t" style="font-size:23.19px;line-height:23.19px;font-weight:700;color:#0d2f6b;-webkit-text-stroke:0.45px #0d2f6b;left:695.99px;top:843.50px;transform:scaleX(1.0136);">70,7%</span>
<span class="t" style="font-size:23.19px;line-height:23.19px;font-weight:700;color:#0d2f6b;-webkit-text-stroke:0.45px #0d2f6b;left:705.00px;top:974.50px;transform:scaleX(0.9955);">0,2%</span>
<span class="t" style="font-size:24.93px;line-height:24.93px;font-weight:700;color:#111111;left:32.99px;top:836.00px;transform:scaleX(1.0130);">DN đăng ký</span>
<span class="t" style="font-size:24.93px;line-height:24.93px;font-weight:700;color:#111111;left:34.00px;top:869.00px;transform:scaleX(1.0271);">thành lập mới</span>
<span class="t" style="font-size:24.93px;line-height:24.93px;font-weight:700;color:#111111;left:30.97px;top:962.00px;transform:scaleX(1.0259);">DN quay trở lại</span>
<span class="t" style="font-size:24.93px;line-height:24.93px;font-weight:700;color:#111111;left:30.97px;top:995.00px;transform:scaleX(1.0321);">hoạt động</span>
<span class="t" style="font-size:23px;line-height:23px;font-weight:400;color:#143c7c;left:409.00px;top:847.00px;transform:scaleX(1.0111);">gần</span>
<span class="t" style="font-size:45.65px;line-height:45.65px;font-weight:700;color:#808080;-webkit-text-stroke:7px #808080;left:451.05px;top:827.00px;transform:scaleX(0.9549);">35,5</span>
<span class="t" style="font-size:45.65px;line-height:45.65px;font-weight:700;color:#fff;-webkit-text-stroke:1.6px #fff;left:451.05px;top:827.00px;transform:scaleX(0.9549);">35,5</span>
<span class="t" style="font-size:23px;line-height:23px;font-weight:400;color:#143c7c;font-style:italic;left:456.50px;top:881.00px;transform:scaleX(0.9635);">nghìn DN</span>
<span class="t" style="font-size:45.65px;line-height:45.65px;font-weight:700;color:#808080;-webkit-text-stroke:7px #808080;left:325.41px;top:960.00px;transform:scaleX(0.9879);">29</span>
<span class="t" style="font-size:45.65px;line-height:45.65px;font-weight:700;color:#fff;-webkit-text-stroke:1.6px #fff;left:325.41px;top:960.00px;transform:scaleX(0.9879);">29</span>
<span class="t" style="font-size:26.81px;line-height:26.81px;font-weight:700;color:#111111;left:83.98px;top:1124.00px;transform:scaleX(1.0194);">DOANH NGHIỆP THÀNH LẬP MỚI 2 THÁNG/2026</span>
<span class="t" style="font-size:26.81px;line-height:26.81px;font-weight:700;color:#111111;left:112.00px;top:1158.00px;transform:scaleX(0.9997);">PHÂN THEO MỘT SỐ LĨNH VỰC HOẠT ĐỘNG</span>
<span class="t" style="font-size:21.5px;line-height:21.5px;font-weight:400;color:#111111;font-style:italic;left:602.04px;top:1216.50px;transform:scaleX(0.9558);">Tăng so với cùng kỳ</span>
<span class="t" style="font-size:21.5px;line-height:21.5px;font-weight:400;color:#111111;font-style:italic;left:647.00px;top:1244.50px;transform:scaleX(0.9827);">năm 2025</span>
<span class="t" style="font-size:21.01px;line-height:21.01px;font-weight:700;color:#111111;left:23.70px;top:1267.75px;transform:scaleX(1.0504);">Bán buôn, bán</span>
<span class="t" style="font-size:21.01px;line-height:21.01px;font-weight:700;color:#111111;left:41.58px;top:1296.60px;transform:scaleX(1.0250);">lẻ, sửa chữa</span>
<span class="t" style="font-size:21.01px;line-height:21.01px;font-weight:700;color:#111111;left:48.00px;top:1325.50px;transform:scaleX(1.0518);">ô tô, xe máy</span>
<span class="t" style="font-size:21.01px;line-height:21.01px;font-weight:700;color:#111111;left:6.00px;top:1371.70px;transform:scaleX(1.0284);">Công nghiệp chế</span>
<span class="t" style="font-size:21.01px;line-height:21.01px;font-weight:700;color:#111111;left:50.93px;top:1399.80px;transform:scaleX(1.0729);">biến chế tạo</span>
<span class="t" style="font-size:21.01px;line-height:21.01px;font-weight:700;color:#111111;left:73.00px;top:1465.80px;transform:scaleX(1.0410);">Xây dựng</span>
<span class="t" style="font-size:21.01px;line-height:21.01px;font-weight:700;color:#111111;left:54.75px;top:1526.30px;transform:scaleX(1.0488);">Kinh doanh</span>
<span class="t" style="font-size:21.01px;line-height:21.01px;font-weight:700;color:#111111;left:37.44px;top:1555.00px;transform:scaleX(1.0610);">bất động sản</span>
<span class="t" style="font-size:21.01px;line-height:21.01px;font-weight:700;color:#111111;left:100.40px;top:1604.50px;transform:scaleX(1.0908);">Vận tải</span>
<span class="t" style="font-size:21.01px;line-height:21.01px;font-weight:700;color:#111111;left:96.53px;top:1633.40px;transform:scaleX(1.0743);">kho bãi</span>
<span class="t" style="font-size:21.01px;line-height:21.01px;font-weight:700;color:#111111;left:15.43px;top:1680.00px;transform:scaleX(1.0715);">Dịch vụ lưu trú</span>
<span class="t" style="font-size:21.01px;line-height:21.01px;font-weight:700;color:#111111;left:58.30px;top:1709.00px;transform:scaleX(1.0571);">và ăn uống</span>
<span class="t" style="font-size:21.01px;line-height:21.01px;font-weight:700;color:#111111;left:20.60px;top:1755.80px;transform:scaleX(1.0610);">Sản xuất phân</span>
<span class="t" style="font-size:21.01px;line-height:21.01px;font-weight:700;color:#111111;left:60.93px;top:1785.50px;transform:scaleX(1.0664);">phối, điện,</span>
<span class="t" style="font-size:21.01px;line-height:21.01px;font-weight:700;color:#111111;left:68.27px;top:1814.00px;transform:scaleX(1.0256);">nước, gas</span>
<span class="t" style="font-size:36.23px;line-height:36.23px;font-weight:700;color:#fff;left:424.05px;top:1289.50px;transform:scaleX(0.9772);">16,02</span>
<span class="t" style="font-size:21.5px;line-height:21.5px;font-weight:400;color:#111111;font-style:italic;left:479.00px;top:1328.50px;transform:scaleX(1.0405);">nghìn DN</span>
<span class="t" style="font-size:36.23px;line-height:36.23px;font-weight:700;color:#dc2d4a;-webkit-text-stroke:0.3px #dc2d4a;left:428.70px;top:1378.50px;transform:scaleX(0.9993);">4,83</span>
<span class="t" style="font-size:36.23px;line-height:36.23px;font-weight:700;color:#dc2d4a;-webkit-text-stroke:0.3px #dc2d4a;left:425.01px;top:1457.50px;transform:scaleX(0.9861);">2,93</span>
<span class="t" style="font-size:36.23px;line-height:36.23px;font-weight:700;color:#dc2d4a;-webkit-text-stroke:0.3px #dc2d4a;left:422.96px;top:1535.50px;transform:scaleX(1.0388);">0,96</span>
<span class="t" style="font-size:36.23px;line-height:36.23px;font-weight:700;color:#dc2d4a;-webkit-text-stroke:0.3px #dc2d4a;left:422.98px;top:1614.50px;transform:scaleX(1.0154);">2,09</span>
<span class="t" style="font-size:36.23px;line-height:36.23px;font-weight:700;color:#dc2d4a;-webkit-text-stroke:0.3px #dc2d4a;left:422.07px;top:1691.50px;transform:scaleX(0.9651);">1,59</span>
<span class="t" style="font-size:36.23px;line-height:36.23px;font-weight:700;color:#dc2d4a;-webkit-text-stroke:0.3px #dc2d4a;left:422.99px;top:1766.50px;transform:scaleX(1.0095);">0,29</span>
<span class="t" style="font-size:21.16px;line-height:21.16px;font-weight:700;color:#111111;-webkit-text-stroke:0.45px #111;left:706.31px;top:1316.40px;transform:scaleX(0.9888);">124%</span>
<span class="t" style="font-size:21.16px;line-height:21.16px;font-weight:700;color:#111111;-webkit-text-stroke:0.45px #111;left:708.00px;top:1388.60px;transform:scaleX(0.9921);">82,7%</span>
<span class="t" style="font-size:21.16px;line-height:21.16px;font-weight:700;color:#111111;-webkit-text-stroke:0.45px #111;left:711.30px;top:1460.00px;transform:scaleX(1.0021);">52,4%</span>
<span class="t" style="font-size:21.16px;line-height:21.16px;font-weight:700;color:#111111;-webkit-text-stroke:0.45px #111;left:710.70px;top:1538.00px;transform:scaleX(1.0353);">94,9%</span>
<span class="t" style="font-size:21.16px;line-height:21.16px;font-weight:700;color:#111111;-webkit-text-stroke:0.45px #111;left:710.70px;top:1623.00px;transform:scaleX(1.0353);">99,4%</span>
<span class="t" style="font-size:21.16px;line-height:21.16px;font-weight:700;color:#111111;-webkit-text-stroke:0.45px #111;left:709.00px;top:1700.40px;transform:scaleX(0.9980);">165,2%</span>
<span class="t" style="font-size:21.16px;line-height:21.16px;font-weight:700;color:#111111;-webkit-text-stroke:0.45px #111;left:710.00px;top:1774.70px;transform:scaleX(1.0070);">95,9%</span>
<span class="t" style="font-size:20.5px;line-height:20.5px;font-weight:400;color:#111111;font-style:italic;left:466.00px;top:1886.50px;transform:scaleX(0.9428);">Nguồn: Cục Thống kê (Bộ Tài chính)</span>
<span class="t" style="font-size:26.09px;line-height:26.09px;font-weight:700;color:#123878;-webkit-text-stroke:0.6px #123878;left:246.61px;top:1937.00px;transform:scaleX(0.8896);">Infographic | congthuong.vn</span>
</div>
</body></html>
